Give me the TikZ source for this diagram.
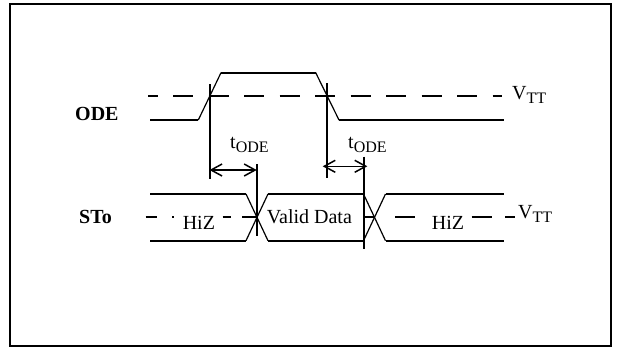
\documentclass[tikz,border=0pt]{standalone}
\usepackage{fontspec}
\setmainfont{Liberation Serif}
\usetikzlibrary{arrows.meta}
\newcommand{\subtxt}[1]{\raisebox{-4pt}{\fontsize{16}{16}\selectfont #1}}
\begin{document}
\begin{tikzpicture}[x=1pt,y=-1pt,
  sig/.style={line width=2pt},
  slant/.style={line width=1.2pt},
  vline/.style={line width=2pt},
  vttline/.style={line width=2pt, dash pattern=on 20pt off 15.5pt, dash phase=10.5pt},
  midseg/.style={line width=2pt},
  lbl/.style={inner sep=0pt, font=\fontsize{20}{24}\selectfont},
  dimarrow/.style={line width=1.5pt, {Straight Barb[length=11pt,width=12pt]}-{Straight Barb[length=11pt,width=12pt]}}
]
\useasboundingbox (0,0) rectangle (620,348);
\draw[line width=2pt] (9.5,3.5) rectangle (611,345.5);

% labels
\node[lbl, anchor=base west] (ode) at (75,120) {\bfseries ODE};
\node[lbl, anchor=base west] (sto) at (79,223) {\bfseries STo};
\node[lbl, anchor=base west] (vtt1) at (512,99) {V\subtxt{TT}};
\node[lbl, anchor=base west] (vtt2) at (518,218) {V\subtxt{TT}};
\node[lbl, anchor=base west] (t1) at (230,148) {t\subtxt{ODE}};
\node[lbl, anchor=base west] (t2) at (348,148) {t\subtxt{ODE}};
\node[lbl, anchor=base west] (hiz1) at (182.6,229) {HiZ};
\node[lbl, anchor=base west] (valid) at (266.7,223) {Valid Data};
\node[lbl, anchor=base west] (hiz2) at (431.7,229) {HiZ};

% ODE signal
\coordinate (o0) at (150,120);
\coordinate (o1) at (198.3,120);
\coordinate (o2) at (221,72.7);
\coordinate (o3) at (315.7,72.7);
\coordinate (o4) at (339,120);
\coordinate (o5) at (504,120);
\draw[sig] (o0) -- (o1);
\draw[slant] (o1) -- (o2);
\draw[sig] (o2) -- (o3);
\draw[slant] (o3) -- (o4);
\draw[sig] (o4) -- (o5);
\draw[vttline] (148,96) -- (502,96);

% STo signal
\draw[sig] (150,194) -- (246,194);
\draw[sig] (150,240.7) -- (246,240.7);
\draw[slant] (246,194) -- (268,240.7);
\draw[slant] (246,240.7) -- (268,194);
\draw[sig] (268,194) -- (363.5,194);
\draw[sig] (268,240.7) -- (363.5,240.7);
\draw[slant] (363.5,194) -- (385.5,240.7);
\draw[slant] (363.5,240.7) -- (385.5,194);
\draw[sig] (385.5,194) -- (504,194);
\draw[sig] (385.5,240.7) -- (504,240.7);

% STo mid-level pieces
\draw[midseg] (145.5,217) -- (157,217);
\draw[midseg] (172,217) -- (174,217);
\draw[midseg] (222.6,217) -- (231,217);
\draw[midseg] (242,217) -- (257,217);
\draw[midseg] (363.5,217) -- (375,217);
\draw[midseg] (395,217) -- (415,217);
\draw[midseg] (471.7,217) -- (491.7,217);
\draw[midseg] (505,217) -- (515,217);

% reference verticals
\coordinate (v1a) at (209.5,84);   \coordinate (v1b) at (209.5,179.3);
\coordinate (v2a) at (326.7,83.3); \coordinate (v2b) at (326.7,177.7);
\coordinate (v3a) at (256.7,164.3);\coordinate (v3b) at (256.7,236);
\coordinate (v4a) at (364.2,156.7);\coordinate (v4b) at (364.2,249.3);
\draw[vline] (v1a) -- (v1b);
\draw[vline] (v2a) -- (v2b);
\draw[vline] (v3a) -- (v3b);
\draw[vline] (v4a) -- (v4b);

% timing arrows
\coordinate (a1l) at (209.5,170);
\coordinate (a1r) at (256.7,170);
\coordinate (a2l) at (322.7,166.3);
\coordinate (a2r) at (367.3,166.3);
\draw[dimarrow] (a1l) -- (a1r);
\draw[dimarrow] (a2l) -- (a2r);
\end{tikzpicture}
\end{document}
